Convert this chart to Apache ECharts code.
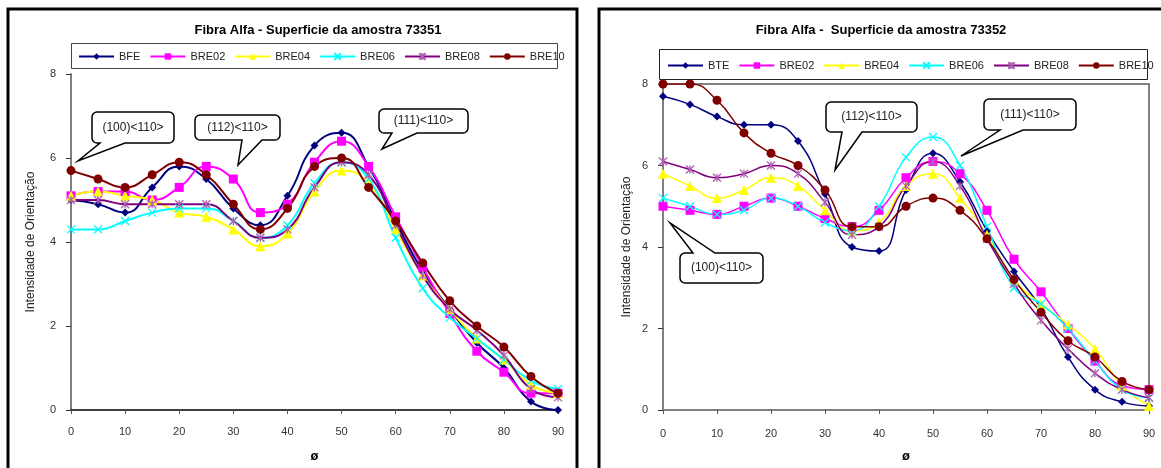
<!DOCTYPE html>
<html>
<head>
<meta charset="utf-8">
<script src="https://cdn.jsdelivr.net/npm/echarts@6/dist/echarts.min.js"></script>
<style>
html,body{margin:0;padding:0;background:#fff;overflow:hidden;}
#c{width:1161px;height:468px;}
</style>
</head>
<body>
<div id="c"></div>
<script>
// ---- data ----
const phi = [0,5,10,15,20,25,30,35,40,45,50,55,60,65,70,75,80,85,90];
const yTicks = [0,2,4,6,8];
const xTicks = [0,10,20,30,40,50,60,70,80,90];

const titleLeft = 'Fibra Alfa - Superficie da amostra 73351';
const titleRight = 'Fibra Alfa -  Superficie da amostra 73352';
const yName = 'Intensidade de Orientação';
const xName = 'ø';

const namesLeft = ['BFE','BRE02','BRE04','BRE06','BRE08','BRE10'];
const namesRight = ['BTE','BRE02','BRE04','BRE06','BRE08','BRE10'];

// sample 73351
const L_BFE   = [5.0,4.9,4.7,5.3,5.8,5.5,4.8,4.4,5.1,6.3,6.6,5.8,4.5,3.3,2.4,1.6,1.0,0.2,0.0];
const L_BRE02 = [5.1,5.2,5.2,5.0,5.3,5.8,5.5,4.7,4.9,5.9,6.4,5.8,4.6,3.4,2.3,1.4,0.9,0.4,0.4];
const L_BRE04 = [5.1,5.2,5.1,5.0,4.7,4.6,4.3,3.9,4.2,5.2,5.7,5.4,4.3,3.2,2.4,1.7,1.2,0.6,0.4];
const L_BRE06 = [4.3,4.3,4.5,4.7,4.8,4.8,4.5,4.1,4.4,5.4,5.9,5.5,4.1,2.9,2.2,1.7,1.2,0.7,0.5];
const L_BRE08 = [5.0,5.0,4.9,4.9,4.9,4.9,4.5,4.1,4.3,5.3,5.9,5.6,4.4,3.2,2.4,1.9,1.3,0.5,0.3];
const L_BRE10 = [5.7,5.5,5.3,5.6,5.9,5.6,4.9,4.3,4.8,5.8,6.0,5.3,4.5,3.5,2.6,2.0,1.5,0.8,0.4];

// sample 73352
const R_BTE   = [7.7,7.5,7.2,7.0,7.0,6.6,5.3,4.0,3.9,5.4,6.3,5.6,4.4,3.4,2.5,1.3,0.5,0.2,0.1];
const R_BRE02 = [5.0,4.9,4.8,5.0,5.2,5.0,4.7,4.5,4.9,5.7,6.1,5.8,4.9,3.7,2.9,2.0,1.2,0.6,0.5];
const R_BRE04 = [5.8,5.5,5.2,5.4,5.7,5.5,4.9,4.4,4.6,5.5,5.8,5.2,4.3,3.2,2.6,2.1,1.5,0.6,0.1];
const R_BRE06 = [5.2,5.0,4.8,4.9,5.2,5.0,4.6,4.4,5.0,6.2,6.7,6.0,4.5,3.0,2.6,2.0,1.2,0.5,0.3];
const R_BRE08 = [6.1,5.9,5.7,5.8,6.0,5.8,5.1,4.3,4.5,5.5,6.1,5.5,4.2,3.1,2.2,1.5,0.9,0.5,0.3];
const R_BRE10 = [8.0,8.0,7.6,6.8,6.3,6.0,5.4,4.5,4.5,5.0,5.2,4.9,4.2,3.2,2.4,1.7,1.3,0.7,0.5];

const calloutLabels = ['(100)<110>','(112)<110>','(111)<110>'];

// ---- styles ----
const FONT = '"Liberation Sans", Arial, sans-serif';
const styles = [
  {color:'#000080', symbol:'diamond', size:8},
  {color:'#FF00FF', symbol:'rect', size:9},
  {color:'#FFFF00', symbol:'triangle', size:10},
  {color:'#00FFFF', symbol:'path://M0,0L10,10M10,0L0,10', size:8, stroke:true},
  {color:'#800080', symbol:'path://M0,0L10,10M10,0L0,10M5,0L5,10', size:8, stroke:true, symColor:'#B060B0'},
  {color:'#800000', symbol:'circle', size:9}
];

function mkSeries(names, arrays, idx, lw){
  return arrays.map((arr, i) => {
    const s = styles[i];
    const sc = s.symColor || s.color;
    return {
      type:'line', name:names[i], xAxisIndex:idx, yAxisIndex:idx,
      data: phi.map((p, k) => [p, arr[k]]),
      smooth:0.5, symbol:s.symbol, symbolSize:s.size, showAllSymbol:true,
      lineStyle:{color:s.color, width:lw},
      itemStyle: s.stroke ? {color:sc, borderColor:sc, borderWidth:1.3, opacity:1}
                          : {color:s.color, borderWidth:0},
      emphasis:{disabled:true}, z: 3
    };
  });
}

function callout(box, base, tip, side, text){
  const [x1,y1,x2,y2] = box, r = 5, pts = [];
  function arc(cx, cy, a0, a1){
    for (let k = 0; k <= 4; k++){
      const a = (a0 + (a1 - a0) * k / 4) * Math.PI / 180;
      pts.push([cx + r*Math.cos(a), cy + r*Math.sin(a)]);
    }
  }
  pts.push([x1 + r, y1]);
  if (side === 'top'){ pts.push([base[0], y1], tip, [base[1], y1]); }
  arc(x2 - r, y1 + r, -90, 0);
  arc(x2 - r, y2 - r, 0, 90);
  if (side === 'bottom'){ pts.push([base[1], y2], tip, [base[0], y2]); }
  arc(x1 + r, y2 - r, 90, 180);
  arc(x1 + r, y1 + r, 180, 270);
  return [
    {type:'polygon', shape:{points:pts}, style:{fill:'#fff', stroke:'#000', lineWidth:1.5}, z:50},
    {type:'text', x:(x1+x2)/2, y:(y1+y2)/2, z:51,
     style:{text:text, fill:'#222', font:'12px '+FONT, textAlign:'center', textVerticalAlign:'middle'}}
  ];
}

function axisPair(idx, xLineColor, xLabelMargin, nameGapX, nameGapY){
  return {
    x:{type:'value', gridIndex:idx, min:0, max:90, interval:10,
       name:xName, nameLocation:'middle', nameGap:nameGapX,
       nameTextStyle:{fontFamily:FONT, fontWeight:'bold', fontSize:13, color:'#000'},
       axisLine:{lineStyle:{color:xLineColor, width:1.5}},
       axisTick:{show:true, length:4, lineStyle:{color:'#555'}},
       axisLabel:{fontFamily:FONT, fontSize:11, color:'#333', margin:xLabelMargin,
                  formatter:v => xTicks.includes(v) ? String(v) : ''},
       splitLine:{show:false}},
    y:{type:'value', gridIndex:idx, min:0, max:8, interval:2,
       name:yName, nameLocation:'middle', nameGap:nameGapY,
       nameTextStyle:{fontFamily:FONT, fontSize:12, color:'#222'},
       axisLine:{show:true, lineStyle:{color:'#808080', width:2}},
       axisTick:{show:true, length:5, lineStyle:{color:'#333'}},
       axisLabel:{fontFamily:FONT, fontSize:11, color:'#333', margin:15,
                  formatter:v => yTicks.includes(v) ? String(v) : ''},
       splitLine:{show:false}}
  };
}

const aL = axisPair(0, '#000', 16, 40, 34);
const aR = axisPair(1, '#808080', 18, 40, 30);

const legendText = {fontFamily:FONT, fontSize:11, color:'#222'};

const chart = echarts.init(document.getElementById('c'), null, {renderer:'canvas'});
chart.setOption({
  animation:false,
  backgroundColor:'#fff',
  title:[
    {text:titleLeft, left:313, top:19, textAlign:'center',
     textStyle:{fontFamily:FONT, fontWeight:'bold', fontSize:13, color:'#000'}},
    {text:titleRight, left:876, top:19, textAlign:'center',
     textStyle:{fontFamily:FONT, fontWeight:'bold', fontSize:13, color:'#000'}}
  ],
  legend:[
    {data:namesLeft, left:78, top:51, padding:0, itemWidth:35, itemHeight:8, itemGap:9,
     textStyle:legendText, selectedMode:false},
    {data:namesRight, left:667, top:60, padding:0, itemWidth:35, itemHeight:8, itemGap:9,
     textStyle:legendText, selectedMode:false}
  ],
  grid:[
    {left:71, top:74, width:487, height:344, show:false},
    {left:663, top:84, width:486, height:330, show:true, borderColor:'#808080', borderWidth:2, backgroundColor:'transparent'}
  ],
  xAxis:[aL.x, aR.x],
  yAxis:[aL.y, aR.y],
  series:[
    ...mkSeries(namesLeft, [L_BFE,L_BRE02,L_BRE04,L_BRE06,L_BRE08,L_BRE10], 0, 2),
    ...mkSeries(namesRight, [R_BTE,R_BRE02,R_BRE04,R_BRE06,R_BRE08,R_BRE10], 1, 1.5)
  ],
  graphic:[
    {type:'rect', shape:{x:8, y:9, width:569, height:480}, style:{fill:'none', stroke:'#000', lineWidth:3}, z:1},
    {type:'rect', shape:{x:599, y:9, width:600, height:480}, style:{fill:'none', stroke:'#000', lineWidth:3}, z:1},
    {type:'rect', shape:{x:71.5, y:43.5, width:486, height:25}, style:{fill:'#fff', stroke:'#444', lineWidth:1}, z:0},
    {type:'rect', shape:{x:659.5, y:49.5, width:488, height:30}, style:{fill:'#fff', stroke:'#222', lineWidth:1}, z:0},
    ...callout([92,112,174,143],[100,125],[78,161],'bottom',calloutLabels[0]),
    ...callout([195,115,280,140],[242,262],[238,165],'bottom',calloutLabels[1]),
    ...callout([379,109,468,133],[392,417],[382,149],'bottom',calloutLabels[2]),
    ...callout([826,102,917,132],[842,862],[835,170],'bottom',calloutLabels[1]),
    ...callout([984,99,1076,130],[1000,1023],[961,156],'bottom',calloutLabels[2]),
    ...callout([680,253,763,283],[693,715],[670,223],'top',calloutLabels[0])
  ]
});
</script>
</body>
</html>
